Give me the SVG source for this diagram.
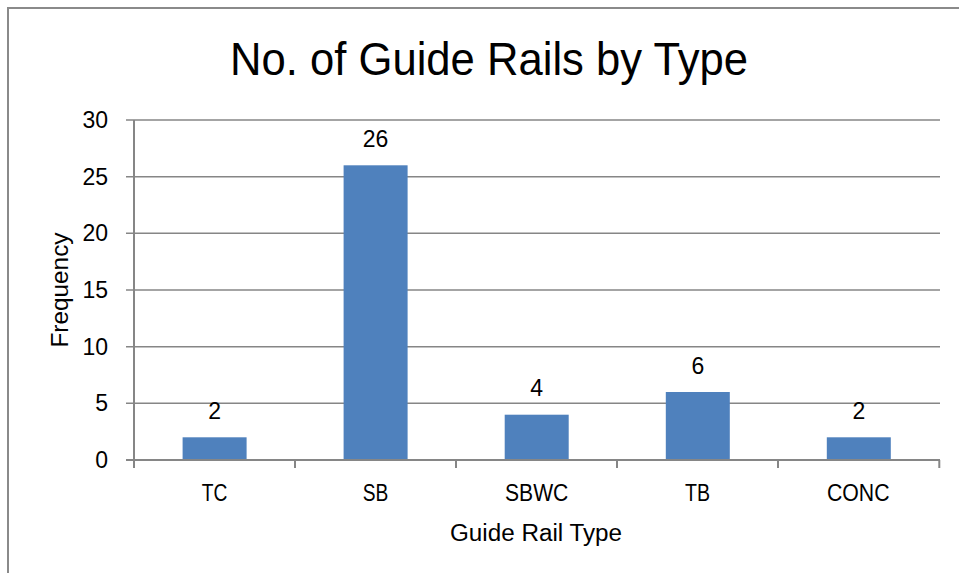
<svg xmlns="http://www.w3.org/2000/svg" width="959" height="573" viewBox="0 0 959 573">
<style>
.t{font-family:"Liberation Sans",Arial,sans-serif;fill:#000}
.grid{stroke:#868686;stroke-width:1.5}
.ax{stroke:#868686;stroke-width:2;fill:none}
.bar{fill:#4F81BD}
.tick{font-size:23px;text-anchor:end}
.cat{font-size:23px;text-anchor:middle}
.val{font-size:23px;text-anchor:middle}
</style>
<rect x="0" y="0" width="959" height="573" fill="#fff"/>
<rect x="8" y="8" width="960" height="580" fill="#fff" stroke="#8a8a8a" stroke-width="2"/>
<text class="t" x="489" y="75" font-size="47" text-anchor="middle" textLength="518" lengthAdjust="spacingAndGlyphs">No. of Guide Rails by Type</text>
<g id="gridlines">
<line class="grid" x1="126" y1="120" x2="940" y2="120"/>
<line class="grid" x1="126" y1="176.7" x2="940" y2="176.7"/>
<line class="grid" x1="126" y1="233.3" x2="940" y2="233.3"/>
<line class="grid" x1="126" y1="290" x2="940" y2="290"/>
<line class="grid" x1="126" y1="346.7" x2="940" y2="346.7"/>
<line class="grid" x1="126" y1="403.3" x2="940" y2="403.3"/>
</g>
<g id="yaxis">
<line class="ax" x1="134" y1="120" x2="134" y2="468"/>
<line class="ax" x1="126" y1="460" x2="134" y2="460"/>
<text class="t tick" x="108" y="128">30</text>
<text class="t tick" x="108" y="185">25</text>
<text class="t tick" x="108" y="241">20</text>
<text class="t tick" x="108" y="298">15</text>
<text class="t tick" x="108" y="355">10</text>
<text class="t tick" x="108" y="411">5</text>
<text class="t tick" x="108" y="468">0</text>
<text class="t" transform="translate(68,290) rotate(-90)" font-size="24" text-anchor="middle" textLength="115" lengthAdjust="spacingAndGlyphs">Frequency</text>
</g>
<g id="bars">
<g id="bar-TC"><rect class="bar" x="182.6" y="437.3" width="64" height="22.7"/><text class="t val" x="214.6" y="419">2</text><text class="t cat" x="214.6" y="501" textLength="25.6" lengthAdjust="spacingAndGlyphs">TC</text></g>
<g id="bar-SB"><rect class="bar" x="343.6" y="165.3" width="64" height="294.7"/><text class="t val" x="375.6" y="147">26</text><text class="t cat" x="375.6" y="501" textLength="25.6" lengthAdjust="spacingAndGlyphs">SB</text></g>
<g id="bar-SBWC"><rect class="bar" x="504.7" y="414.7" width="64" height="45.3"/><text class="t val" x="536.7" y="396">4</text><text class="t cat" x="536.7" y="501" textLength="63.3" lengthAdjust="spacingAndGlyphs">SBWC</text></g>
<g id="bar-TB"><rect class="bar" x="665.8" y="392" width="64" height="68"/><text class="t val" x="697.8" y="374">6</text><text class="t cat" x="697.6" y="501" textLength="25" lengthAdjust="spacingAndGlyphs">TB</text></g>
<g id="bar-CONC"><rect class="bar" x="826.8" y="437.3" width="64" height="22.7"/><text class="t val" x="858.8" y="419">2</text><text class="t cat" x="858.2" y="501" textLength="62.6" lengthAdjust="spacingAndGlyphs">CONC</text></g>
</g>
<g id="xaxis">
<line class="ax" x1="126" y1="460" x2="940" y2="460"/>
<line class="ax" x1="134" y1="460" x2="134" y2="468"/>
<line class="ax" x1="295" y1="460" x2="295" y2="468"/>
<line class="ax" x1="456" y1="460" x2="456" y2="468"/>
<line class="ax" x1="617" y1="460" x2="617" y2="468"/>
<line class="ax" x1="778" y1="460" x2="778" y2="468"/>
<line class="ax" x1="939.3" y1="460" x2="939.3" y2="468"/>
<text class="t" x="536" y="541" font-size="23" text-anchor="middle" textLength="172" lengthAdjust="spacingAndGlyphs">Guide Rail Type</text>
</g>
</svg>
